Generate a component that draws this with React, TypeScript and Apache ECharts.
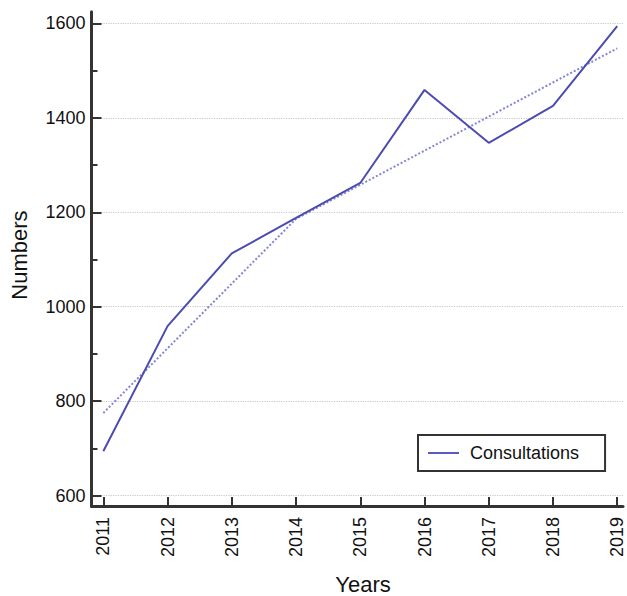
import React, { useEffect, useRef } from "react";
import * as echarts from "echarts";

const years = [2011, 2012, 2013, 2014, 2015, 2016, 2017, 2018, 2019];
const consultations = [694, 959, 1113, 1188, 1262, 1459, 1347, 1425, 1594];
const trendYears = [2011, 2014, 2019];
const trendValues = [775, 1186, 1547];
const yMajorTicks = [600, 800, 1000, 1200, 1400, 1600];
const yMinorTicks = [700, 900, 1100, 1300, 1500];
const seriesName = "Consultations";
const xTitle = "Years";
const yTitle = "Numbers";

const FONT = "'Liberation Sans', Arial, sans-serif";

export default function App() {
  const ref = useRef<HTMLDivElement>(null);
  useEffect(() => {
    if (!ref.current) return;
    const chart = echarts.init(ref.current, null, { renderer: "svg" });
    const yMin = 578.2;
    const yMax = 1624.6;
    chart.setOption({
      animation: false,
      backgroundColor: "#ffffff",
      textStyle: { fontFamily: FONT },
      grid: { left: 91.5, top: 11.7, right: 4, bottom: 90, containLabel: false },
      legend: {
        data: [{ name: seriesName, icon: "rect" }],
        left: 418,
        top: 435,
        orient: "horizontal",
        borderColor: "#333",
        borderWidth: 2,
        padding: [9, 26, 9, 10],
        itemWidth: 31,
        itemHeight: 2,
        textStyle: { fontSize: 18, color: "#111", fontFamily: FONT, padding: [0, 0, 0, 6] },
      },
      xAxis: {
        type: "value",
        min: 2010.816,
        max: 2019.09,
        axisLine: { show: true, lineStyle: { color: "#333", width: 3 } },
        axisTick: {
          show: true,
          inside: true,
          length: 9,
          customValues: years,
          lineStyle: { color: "#333", width: 2 },
        },
        axisLabel: {
          show: true,
          rotate: 90,
          margin: 11,
          fontSize: 18,
          color: "#111",
          fontFamily: FONT,
          customValues: years,
          formatter: (v: number) => String(v),
        },
        splitLine: { show: false },
      },
      yAxis: [
        {
          type: "value",
          min: yMin,
          max: yMax,
          position: "left",
          axisLine: { show: true, lineStyle: { color: "#333", width: 3 } },
          axisTick: {
            show: true,
            inside: true,
            length: 10,
            customValues: yMajorTicks,
            lineStyle: { color: "#333", width: 2 },
          },
          axisLabel: {
            show: true,
            margin: 6,
            fontSize: 18,
            color: "#111",
            fontFamily: FONT,
            customValues: yMajorTicks,
            formatter: (v: number) => String(v),
          },
          splitLine: { show: true, lineStyle: { color: "#c8c8c8", type: "dotted", width: 1.2 } },
        },
        {
          type: "value",
          min: yMin,
          max: yMax,
          position: "left",
          axisLine: { show: false },
          axisTick: {
            show: true,
            inside: true,
            length: 6,
            customValues: yMinorTicks,
            lineStyle: { color: "#333", width: 2 },
          },
          axisLabel: { show: false },
          splitLine: { show: false },
        },
      ],
      graphic: [
        {
          type: "text",
          x: 19,
          y: 255,
          rotation: Math.PI / 2,
          style: {
            text: yTitle,
            fontSize: 22,
            fontFamily: FONT,
            fill: "#111",
            textAlign: "center",
            textVerticalAlign: "middle",
          },
        },
        {
          type: "text",
          x: 363,
          y: 584,
          style: {
            text: xTitle,
            fontSize: 22,
            fontFamily: FONT,
            fill: "#111",
            textAlign: "center",
            textVerticalAlign: "middle",
          },
        },
      ],
      series: [
        {
          name: "Trend",
          type: "line",
          data: trendYears.map((y, i) => [y, trendValues[i]]),
          symbol: "none",
          lineStyle: { color: "#8585d6", width: 2, type: "dotted" },
          itemStyle: { color: "#8585d6" },
          z: 2,
        },
        {
          name: seriesName,
          type: "line",
          data: years.map((y, i) => [y, consultations[i]]),
          symbol: "none",
          lineStyle: { color: "#4b4bb0", width: 2 },
          itemStyle: { color: "#5a5ac0" },
          z: 3,
        },
      ],
    });
    return () => chart.dispose();
  }, []);
  return (
    <div
      ref={ref}
      style={{ position: "fixed", left: 0, top: 0, width: 627, height: 596, background: "#fff" }}
    />
  );
}
